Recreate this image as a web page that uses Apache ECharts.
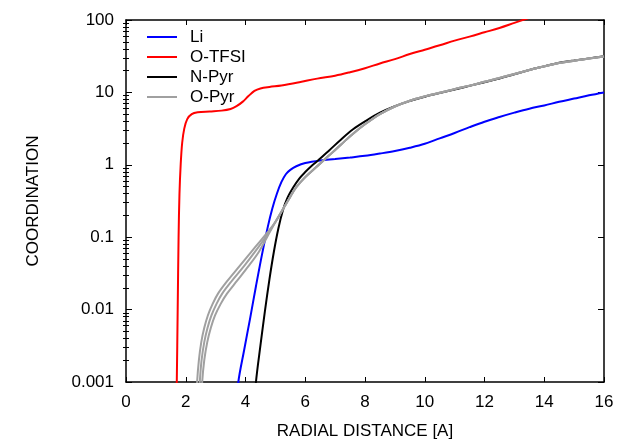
<!DOCTYPE html>
<html>
<head>
<meta charset="utf-8">
<script src="https://cdn.jsdelivr.net/npm/echarts@6/dist/echarts.min.js"></script>
<style>
  html, body { margin: 0; padding: 0; background: #fff; }
  #chart { width: 620px; height: 441px; }
</style>
</head>
<body>
<div id="chart"></div>
<script>
// values, [radial distance, coordination]
const li = [
  [3.72, 0.0005], [3.76, 0.001], [3.95, 0.0027], [4.15, 0.0074], [4.35, 0.021],
  [4.55, 0.057], [4.75, 0.141], [4.9, 0.251], [5.05, 0.398], [5.2, 0.575],
  [5.35, 0.741], [5.5, 0.851], [5.7, 0.955], [6.0, 1.06], [6.5, 1.15],
  [7.0, 1.2], [7.5, 1.26], [8.0, 1.33], [8.5, 1.43], [9.0, 1.55],
  [9.5, 1.72], [10.0, 1.95], [10.5, 2.32], [11.0, 2.75], [11.5, 3.31],
  [12.0, 3.94], [12.5, 4.57], [13.0, 5.25], [13.5, 5.96], [14.0, 6.61],
  [14.5, 7.41], [15.0, 8.22], [15.5, 9.12], [16.0, 10]
]
const oTfsi = [
  [1.68, 0.0004], [1.70, 0.001], [1.73, 0.01], [1.76, 0.1], [1.79, 0.4],
  [1.83, 1.0], [1.88, 2.0], [1.95, 3.16], [2.05, 4.27], [2.2, 5.0],
  [2.4, 5.3], [2.8, 5.45], [3.2, 5.6], [3.5, 5.9], [3.7, 6.45],
  [3.9, 7.4], [4.1, 8.9], [4.3, 10.5], [4.5, 11.35], [4.8, 11.9],
  [5.2, 12.45], [5.8, 13.8], [6.4, 15.5], [7.0, 17], [7.5, 19],
  [8.0, 21.6], [8.5, 25.1], [9.0, 28.8], [9.5, 33.9], [10.0, 38.9],
  [10.5, 44.7], [11.0, 51.9], [11.5, 58.9], [12.0, 67.6], [12.5, 77.6],
  [13.0, 91.2], [13.5, 107]
]
const nPyr = [
  [4.31, 0.0005], [4.35, 0.001], [4.5, 0.0032], [4.65, 0.0095], [4.8, 0.026],
  [4.95, 0.063], [5.1, 0.132], [5.25, 0.234], [5.4, 0.347], [5.6, 0.49],
  [5.8, 0.646], [6.0, 0.794], [6.2, 0.955], [6.4, 1.12], [6.8, 1.58],
  [7.2, 2.24], [7.6, 3.09], [8.0, 3.98], [8.5, 5.25], [9.0, 6.46],
  [9.5, 7.59], [10.0, 8.71], [10.5, 9.77], [11.0, 10.96], [11.5, 12.3],
  [12.0, 13.8], [12.5, 15.5], [13.0, 17.8], [13.5, 20.4], [14.0, 22.9],
  [14.5, 25.7], [15.0, 27.5], [15.5, 29.5], [16.0, 31.6]
]
// O-Pyr: three curves, merged from about x = 5
const oPyrTail = [
  [5.0, 0.162], [5.3, 0.263], [5.5, 0.363], [5.7, 0.49], [6.0, 0.676],
  [6.4, 0.955], [6.8, 1.35], [7.2, 1.91], [7.6, 2.69], [8.0, 3.63],
  [8.5, 5.01], [9.0, 6.38], [9.5, 7.67], [10.0, 8.81], [10.5, 9.89],
  [11.0, 11.1], [11.5, 12.4], [12.0, 14.0], [12.5, 15.8], [13.0, 18.0],
  [13.5, 20.4], [14.0, 22.9], [14.5, 25.4], [15.0, 27.4], [15.5, 29.3],
  [16.0, 31.3]
]
const oPyrA = [
  [2.35, 0.0005], [2.38, 0.001], [2.44, 0.002], [2.52, 0.00355], [2.62, 0.0056],
  [2.74, 0.0083], [2.9, 0.012], [3.08, 0.0166], [3.4, 0.0251], [3.8, 0.0398],
  [4.2, 0.0631], [4.72, 0.115]
]
const oPyrB = [
  [2.44, 0.0005], [2.47, 0.001], [2.53, 0.002], [2.62, 0.00355], [2.73, 0.0056],
  [2.86, 0.0083], [3.03, 0.012], [3.22, 0.0166], [3.55, 0.0251], [3.95, 0.0398],
  [4.32, 0.0631], [4.72, 0.107]
]
const oPyrC = [
  [2.52, 0.0005], [2.55, 0.001], [2.62, 0.002], [2.72, 0.00355], [2.84, 0.0056],
  [2.98, 0.0083], [3.17, 0.012], [3.38, 0.0166], [3.72, 0.0251], [4.1, 0.0398],
  [4.45, 0.0631], [4.72, 0.1]
]
const legendNames = ['Li', 'O-TFSI', 'N-Pyr', 'O-Pyr']
const yTickLabels = ['0.001', '0.01', '0.1', '1', '10', '100']

const font = 'Liberation Sans, Arial, sans-serif'
// log minor ticks 2..9 in each decade
const minorTicks = []
for (let e = -3; e < 2; e++) {
  for (let m = 2; m <= 9; m++) {
    minorTicks.push(+(m * Math.pow(10, e)).toPrecision(3))
  }
}

function lineSeries(name, data, color) {
  return {
    type: 'line',
    name: name,
    data: data,
    smooth: 0.35,
    showSymbol: false,
    symbol: 'none',
    clip: true,
    lineStyle: { color: color, width: 2 },
    itemStyle: { color: color }
  }
}

const xBase = {
  type: 'value',
  min: 0,
  max: 16,
  interval: 2,
  splitLine: { show: false },
  axisLine: { show: true, onZero: false, lineStyle: { color: '#000', width: 1.5 } },
  axisTick: { show: true, inside: true, length: 5, lineStyle: { color: '#000' } }
}
const yBase = {
  type: 'log',
  logBase: 10,
  min: 0.001,
  max: 100,
  splitLine: { show: false },
  axisLine: { show: true, onZero: false, lineStyle: { color: '#000', width: 1.5 } },
  axisTick: { show: true, inside: true, length: 6, lineStyle: { color: '#000' } }
}

const option = {
  animation: false,
  backgroundColor: '#fff',
  grid: { left: 126, right: 16, top: 20, bottom: 59, outerBoundsMode: 'none' },
  legend: {
    data: legendNames,
    orient: 'vertical',
    left: 147,
    top: 27,
    padding: 0,
    icon: 'rect',
    itemWidth: 30,
    itemHeight: 2,
    itemGap: 0,
    selectedMode: false,
    textStyle: { fontFamily: font, fontSize: 17, lineHeight: 20, color: '#000', padding: [0, 0, 0, 8] }
  },
  xAxis: [
    Object.assign({}, xBase, {
      position: 'bottom',
      name: 'RADIAL DISTANCE [A]',
      nameLocation: 'middle',
      nameGap: 41,
      nameTextStyle: { fontFamily: font, fontSize: 17, color: '#000' },
      axisLabel: { fontFamily: font, fontSize: 17, color: '#000', margin: 12 }
    }),
    Object.assign({}, xBase, { position: 'top', axisLabel: { show: false } })
  ],
  yAxis: [
    Object.assign({}, yBase, {
      position: 'left',
      name: 'COORDINATION',
      nameLocation: 'middle',
      nameGap: 84,
      nameRotate: 90,
      nameTextStyle: { fontFamily: font, fontSize: 17, color: '#000' },
      axisLabel: {
        fontFamily: font, fontSize: 17, color: '#000', margin: 12,
        formatter: function (v) {
          const i = Math.round(Math.log10(v)) + 3
          return yTickLabels[i] !== undefined ? yTickLabels[i] : ''
        }
      }
    }),
    Object.assign({}, yBase, {
      position: 'left',
      axisLine: { show: false },
      axisLabel: { show: false },
      axisTick: { show: true, inside: true, length: 3, customValues: minorTicks, lineStyle: { color: '#000' } }
    }),
    Object.assign({}, yBase, { position: 'right', axisLabel: { show: false } }),
    Object.assign({}, yBase, {
      position: 'right',
      axisLine: { show: false },
      axisLabel: { show: false },
      axisTick: { show: true, inside: true, length: 3, customValues: minorTicks, lineStyle: { color: '#000' } }
    })
  ],
  series: [
    lineSeries('Li', li, '#0000ff'),
    lineSeries('O-TFSI', oTfsi, '#ff0000'),
    lineSeries('N-Pyr', nPyr, '#000000'),
    lineSeries('O-Pyr', oPyrA.concat(oPyrTail), '#a0a0a0'),
    lineSeries('O-Pyr', oPyrB.concat(oPyrTail), '#a0a0a0'),
    lineSeries('O-Pyr', oPyrC.concat(oPyrTail), '#a0a0a0')
  ]
}

const myChart = echarts.init(document.getElementById('chart'))
myChart.setOption(option)
window.addEventListener('resize', () => {
  myChart.resize()
})
</script>
</body>
</html>
